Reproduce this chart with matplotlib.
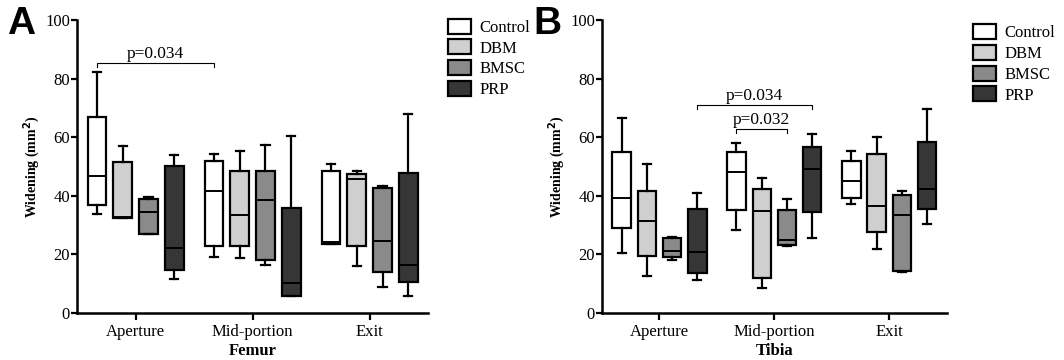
import matplotlib as mpl
import matplotlib.pyplot as plt
from matplotlib.patches import Patch

mpl.rcParams['font.family'] = 'Liberation Serif'

# 区間とグループ
regions = ['Aperture', 'Mid-portion', 'Exit']
groups = ['Control', 'DBM', 'BMSC', 'PRP']
colors = ['#ffffff', '#cfcfcf', '#8a8a8a', '#363636']

# Femur: [min, q1, median, q3, max] (region x group)
femur_min = [[33.8, 32.4, 27.0, 11.6], [19.1, 18.8, 16.5, 5.7], [23.5, 15.9, 8.8, 5.9]]
femur_q1 = [[37.0, 32.4, 27.0, 14.8], [22.7, 23.0, 18.2, 5.9], [23.5, 23.0, 14.0, 10.7]]
femur_med = [[46.6, 32.6, 34.4, 22.2], [41.7, 33.5, 38.4, 10.2], [24.2, 45.8, 24.5, 16.3]]
femur_q3 = [[66.8, 51.5, 39.0, 50.2], [52.0, 48.6, 48.3, 35.8], [48.6, 47.6, 42.5, 47.8]]
femur_max = [[82.2, 57.0, 39.5, 53.8], [54.3, 55.3, 57.2, 60.3], [50.7, 48.3, 43.4, 68.0]]

# Tibia
tibia_min = [[20.5, 12.7, 18.2, 11.4], [28.3, 8.4, 23.0, 25.5], [37.3, 21.8, 14.1, 30.3]]
tibia_q1 = [[28.9, 19.4, 19.2, 13.6], [35.3, 11.9, 23.3, 34.3], [39.1, 27.5, 14.4, 35.5]]
tibia_med = [[39.4, 31.5, 21.0, 20.7], [48.0, 34.9, 24.8, 49.1], [45.1, 36.6, 33.4, 42.3]]
tibia_q3 = [[54.9, 41.5, 25.6, 35.5], [54.9, 42.3, 35.1, 56.6], [51.9, 54.2, 40.3, 58.5]]
tibia_max = [[66.6, 50.8, 26.0, 41.1], [58.0, 45.9, 38.8, 61.0], [55.3, 60.2, 41.7, 69.5]]

# 有意差 ((区間, グループ) から (区間, グループ) まで, y, ラベル)
femur_sig = [((0, 0), (1, 0), 85.2, 'p=0.034')]
tibia_sig = [((0, 3), (1, 3), 70.9, 'p=0.034'), ((1, 0), (1, 2), 62.7, 'p=0.032')]

offsets = [-0.33, -0.11, 0.11, 0.33]
box_w = 0.16


def draw_panel(ax, mins, q1s, meds, q3s, maxs, sigs, xlabel, letter):
    for r in range(len(regions)):
        for g in range(len(groups)):
            st = dict(whislo=mins[r][g], q1=q1s[r][g], med=meds[r][g],
                      q3=q3s[r][g], whishi=maxs[r][g], fliers=[])
            ax.bxp([st], positions=[r + offsets[g]], widths=box_w,
                   patch_artist=True, showfliers=False,
                   boxprops=dict(facecolor=colors[g], edgecolor='black', linewidth=1.6),
                   medianprops=dict(color='black', linewidth=1.4),
                   whiskerprops=dict(color='black', linewidth=1.6),
                   capprops=dict(color='black', linewidth=1.6),
                   capwidths=0.07)
    for (r1, g1), (r2, g2), y, label in sigs:
        x1 = r1 + offsets[g1]
        x2 = r2 + offsets[g2]
        ax.plot([x1, x1, x2, x2], [y - 1.2, y, y, y - 1.2], color='black', lw=0.8)
        ax.text((x1 + x2) / 2, y + 0.3, label, ha='center', va='bottom', fontsize=12.5)

    ax.set_xlim(-0.5, 2.5)
    ax.set_ylim(0, 100)
    ax.set_yticks([0, 20, 40, 60, 80, 100])
    ax.set_xticks(range(len(regions)))
    ax.set_xticklabels(regions, fontsize=12)
    ax.tick_params(axis='y', labelsize=12, width=1.6, length=4, pad=1)
    ax.tick_params(axis='x', width=1.6, length=5, pad=3)
    for s in ['top', 'right']:
        ax.spines[s].set_visible(False)
    for s in ['left', 'bottom']:
        ax.spines[s].set_linewidth(1.8)
    ax.set_ylabel(r'Widening (mm$^\mathbf{2}$)', fontsize=10, fontweight='bold', labelpad=2)
    ax.set_xlabel(xlabel, fontsize=12, fontweight='bold', labelpad=2)
    ax.text(-0.2, 0.985, letter, transform=ax.transAxes, fontsize=28,
            fontweight='bold', family='Liberation Sans', va='center', ha='left')


fig = plt.figure(figsize=(10.64, 3.6), dpi=100)
ax1 = fig.add_axes([0.0724, 0.1306, 0.330, 0.8139])
ax2 = fig.add_axes([0.5658, 0.1306, 0.324, 0.8139])

draw_panel(ax1, femur_min, femur_q1, femur_med, femur_q3, femur_max, femur_sig, 'Femur', 'A')
draw_panel(ax2, tibia_min, tibia_q1, tibia_med, tibia_q3, tibia_max, tibia_sig, 'Tibia', 'B')

handles = [Patch(facecolor=c, edgecolor='black', linewidth=1.6) for c in colors]
fig.legend(handles, groups, loc='upper left', bbox_to_anchor=(0.407, 0.99),
           frameon=False, fontsize=12, handlelength=1.4, handleheight=1.0,
           labelspacing=0.22, handletextpad=0.5)
fig.legend(handles, groups, loc='upper left', bbox_to_anchor=(0.9, 0.975),
           frameon=False, fontsize=12, handlelength=1.4, handleheight=1.0,
           labelspacing=0.22, handletextpad=0.5)

fig.savefig('out.png', dpi=100)
